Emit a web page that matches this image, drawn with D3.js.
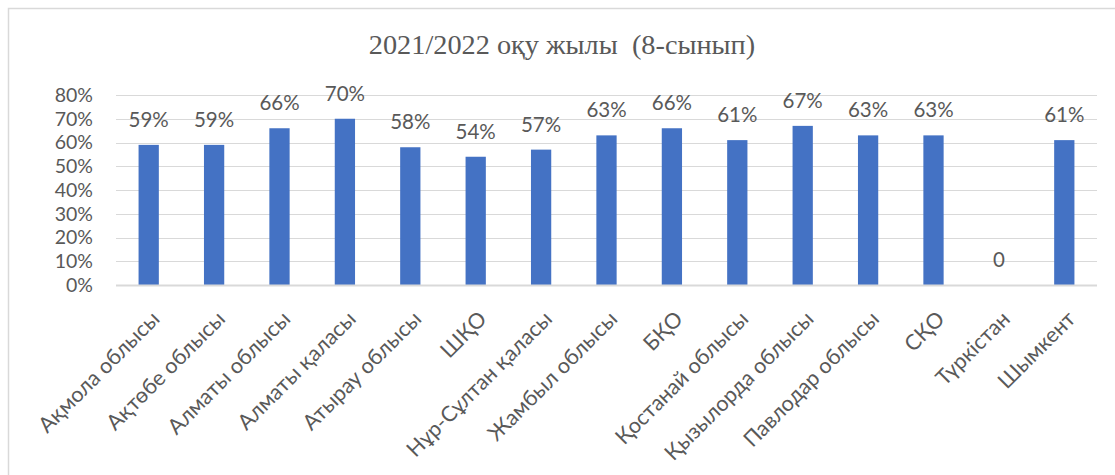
<!DOCTYPE html>
<html><head><meta charset="utf-8">
<script src="https://cdn.jsdelivr.net/npm/d3@7"></script>
<style>body{margin:0;background:#fff}svg{display:block}</style>
</head><body>
<svg id="c" width="1115" height="475"></svg>
<script>
const categories = ["Ақмола облысы","Ақтөбе облысы","Алматы облысы","Алматы қаласы","Атырау облысы","ШҚО","Нұр-Сұлтан қаласы","Жамбыл облысы","БҚО","Қостанай облысы","Қызылорда облысы","Павлодар облысы","СҚО","Түркістан","Шымкент"];
const values = [59,59,66,70,58,54,57,63,66,61,67,63,63,0,61];
const valueLabels = ["59%","59%","66%","70%","58%","54%","57%","63%","66%","61%","67%","63%","63%","0","61%"];
const yTicks = [0,10,20,30,40,50,60,70,80];
const title = "2021/2022 оқу жылы  (8-сынып)";

const svg = d3.select("#c");
const font = "Lato, 'Open Sans', sans-serif";
const grey = "#595959";
const fs = 20;

// chart frame
svg.append("path").attr("d","M8.5,475 L8.5,8.5 L1115,8.5").attr("fill","none").attr("stroke","#d9d9d9").attr("stroke-width",1.5);

const x = d3.scaleBand().domain(categories).range([116,1097]).paddingInner(0.69).paddingOuter(0.345);
const y = d3.scaleLinear().domain([0,80]).range([285,95]);

svg.append("text").attr("x",562).attr("y",54).attr("text-anchor","middle")
  .style("white-space","pre")
  .attr("font-family","'Liberation Serif', 'Times New Roman', serif").attr("font-size",28.3).attr("fill",grey).text(title);

// gridlines
svg.append("g").selectAll("line").data(yTicks.filter(d=>d>0)).join("line")
  .attr("x1",116).attr("x2",1097).attr("y1",d=>Math.round(y(d))+0.5).attr("y2",d=>Math.round(y(d))+0.5)
  .attr("stroke","#d9d9d9").attr("stroke-width",1.2);

// y axis labels
const yAxis = d3.axisLeft(y).tickValues(yTicks).tickFormat(d=>d+"%").tickSize(0).tickPadding(0);
const gy = svg.append("g").attr("transform","translate(93,0)").call(yAxis);
gy.select(".domain").remove();
gy.selectAll("text").attr("font-family",font).attr("font-size",19.5).attr("fill",grey);

// bars
svg.append("g").selectAll("rect").data(values).join("rect")
  .attr("x",(d,i)=>x(categories[i])).attr("width",x.bandwidth())
  .attr("y",d=>y(d)).attr("height",d=>y(0)-y(d)).attr("fill","#4472C4");

// x axis line
svg.append("line").attr("x1",116).attr("x2",1097).attr("y1",285.5).attr("y2",285.5).attr("stroke","#d9d9d9").attr("stroke-width",2);

// value labels
svg.append("g").selectAll("text").data(values).join("text")
  .attr("x",(d,i)=>x(categories[i])+x.bandwidth()/2).attr("y",d=>y(d)-18)
  .attr("text-anchor","middle").attr("font-family",font).attr("font-size",20.5).attr("fill",grey)
  .text((d,i)=>valueLabels[i]);

// category labels
const xAxis = d3.axisBottom(x).tickSize(0).tickPadding(0);
const gx = svg.append("g").attr("transform","translate(0,285)").call(xAxis);
gx.select(".domain").remove();
gx.selectAll("text").attr("font-family",font).attr("font-size",21.5).attr("fill",grey)
  .attr("text-anchor","end").attr("y",0).attr("dy","0.35em")
  .attr("transform","translate(7,30) rotate(-45)");
</script>
</body></html>
